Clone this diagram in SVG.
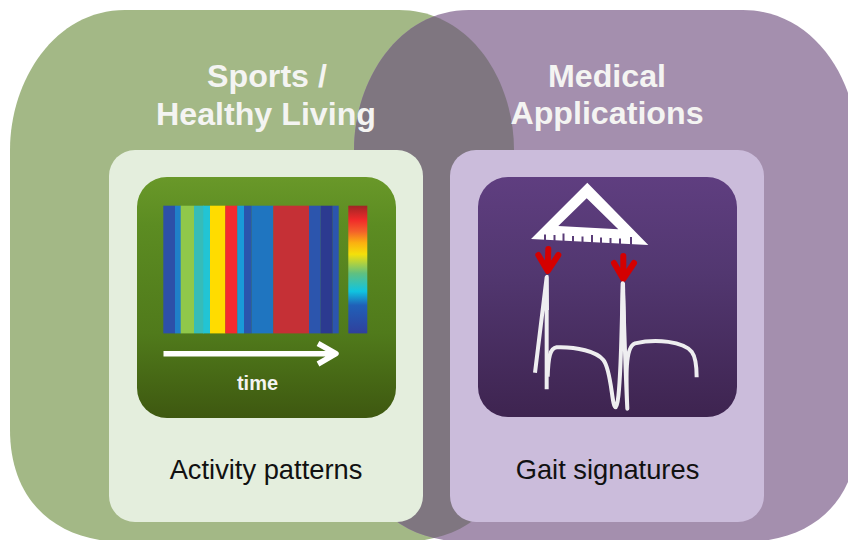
<svg xmlns="http://www.w3.org/2000/svg" width="848" height="540" viewBox="0 0 848 540">
<defs>
<style>
.h{font:bold 32.200px "Liberation Sans",Arial,sans-serif;fill:#f4f4f2;text-anchor:middle}
.c{font:27.300px "Liberation Sans",Arial,sans-serif;fill:#111;text-anchor:middle}
.t{font:bold 20px "Liberation Sans",Arial,sans-serif;fill:#f4f4f2;text-anchor:middle}
.red{fill:none;stroke:#d40000;stroke-width:6;stroke-linecap:round;stroke-linejoin:round}
.wave{fill:none;stroke:#eeeef0;stroke-width:12;stroke-linejoin:round}
.spike{fill:#eeeef0}
</style>
<linearGradient id="gg" x1="0" y1="0" x2="0" y2="1"><stop offset="0" stop-color="#699829"/><stop offset=".2" stop-color="#5c8c22"/><stop offset=".65" stop-color="#507a1b"/><stop offset="1" stop-color="#3e5810"/></linearGradient>
<linearGradient id="pg" x1="0" y1="0" x2="0" y2="1"><stop offset="0" stop-color="#5f3e80"/><stop offset=".4" stop-color="#523770"/><stop offset="1" stop-color="#3e2450"/></linearGradient>
<linearGradient id="cb" x1="0" y1="0" x2="0" y2="1">
<stop offset="0" stop-color="#a02525"/><stop offset=".11" stop-color="#f02a2a"/><stop offset=".2" stop-color="#f4602a"/><stop offset=".29" stop-color="#fbb010"/><stop offset=".38" stop-color="#f4e00a"/><stop offset=".53" stop-color="#60c080"/><stop offset=".67" stop-color="#10c4e0"/><stop offset=".78" stop-color="#2060b8"/><stop offset="1" stop-color="#30409c"/>
</linearGradient>
<clipPath id="gc"><path d="M125,10H399C470,10 514,80 514,150V430C514,500 470,542 399,542H125C55,542 10,500 10,430V150C10,80 55,10 125,10Z"/></clipPath>
</defs>
<rect width="848" height="540" fill="#fff"/>
<g id="sports-region">
<path fill="#a3b886" d="M125,10H399C470,10 514,80 514,150V430C514,500 470,542 399,542H125C55,542 10,500 10,430V150C10,80 55,10 125,10Z"/>
</g>
<g id="medical-region">
<path fill="#a48fae" d="M469,10H743C814,10 858,80 858,150V430C858,500 814,542 743,542H469C399,542 354,500 354,430V150C354,80 399,10 469,10Z"/>
<path clip-path="url(#gc)" fill="#7f7680" d="M469,10H743C814,10 858,80 858,150V430C858,500 814,542 743,542H469C399,542 354,500 354,430V150C354,80 399,10 469,10Z"/>
</g>
<g id="sports-title">
<text class="h" x="267" y="87">Sports /</text>
<text class="h" x="266" y="125">Healthy Living</text>
</g>
<g id="medical-title">
<text class="h" x="607" y="87">Medical</text>
<text class="h" x="607" y="124">Applications</text>
</g>
<g id="activity-panel">
<rect x="109" y="150" width="314" height="372" rx="26" fill="#e4eedd"/>
<rect x="137" y="177" width="259" height="241" rx="30" fill="url(#gg)"/>
<rect x="163.300" y="205.700" width="12" height="127.700" fill="#2d50a8"/>
<rect x="175" y="205.700" width="6" height="127.700" fill="#2080c8"/>
<rect x="180.700" y="205.700" width="13.300" height="127.700" fill="#90c84a"/>
<rect x="194" y="205.700" width="10" height="127.700" fill="#36bcb8"/>
<rect x="203.300" y="205.700" width="6.700" height="127.700" fill="#22c4d4"/>
<rect x="210" y="205.700" width="15.400" height="127.700" fill="#ffdc00"/>
<rect x="225.300" y="205.700" width="12" height="127.700" fill="#f42a30"/>
<rect x="237.300" y="205.700" width="6.700" height="127.700" fill="#1a9ad8"/>
<rect x="244" y="205.700" width="7.700" height="127.700" fill="#2a55ad"/>
<rect x="251.700" y="205.700" width="21.700" height="127.700" fill="#1f75c0"/>
<rect x="273.300" y="205.700" width="35.700" height="127.700" fill="#c53036"/>
<rect x="309" y="205.700" width="11.700" height="127.700" fill="#2c55ad"/>
<rect x="320.700" y="205.700" width="12" height="127.700" fill="#2c3a90"/>
<rect x="332.700" y="205.700" width="6" height="127.700" fill="#2c55ad"/>
<rect x="348.300" y="205.700" width="19" height="127.700" fill="url(#cb)"/>
<path d="M163.500,353.700H335M318,343.500L336,353.700L318,364" fill="none" stroke="#fff" stroke-width="5.500" stroke-linejoin="round"/>
<text class="t" x="257.500" y="390">time</text>
<text class="c" x="266" y="479">Activity patterns</text>
</g>
<g id="gait-panel">
<rect x="450" y="150" width="314" height="372" rx="26" fill="#cbbcdb"/>
<rect x="478" y="177" width="259" height="240" rx="30" fill="url(#pg)"/>
<path fill="#fff" fill-rule="evenodd" d="M587.300,182.700L648.300,245L531,239ZM586.700,198.300L558.300,226L618.300,229.300Z"/>
<path fill="none" stroke="#5a3c78" stroke-width="2" d="M545,240.500v-6M554.500,241v-6M563.500,241.500v-8M573,242v-6M582.500,242.500v-6M592,243v-8M601,243.500v-6M610.500,244v-6M620,244.500v-6M631,245v-8"/>
<path class="red" d="M548.300,249L547.700,270M538.300,255L547.700,271L558.300,255"/>
<path class="red" d="M623.300,256V278M614,263L623.300,279L634,263"/>
<g transform="translate(470 170) scale(.33333)">
<path class="spike" d="M222,365L228,315H235L237,420L229,420Z"/>
<path class="spike" d="M450,470L453,338H465L468,470Z"/>
<path class="wave" d="M195,608L230,322L230,658"/>
<path class="wave" d="M233,620C235,560 240,535 260,532C320,530 380,545 400,570C425,600 425,712 437,712C450,712 455,500 458,340C462,450 468,650 472,716C468,620 465,530 495,520C560,505 640,515 665,545C680,565 680,600 680,622"/>
</g>
<text class="c" x="607.500" y="479">Gait signatures</text>
</g>
<g id="connectors"/>
</svg>
